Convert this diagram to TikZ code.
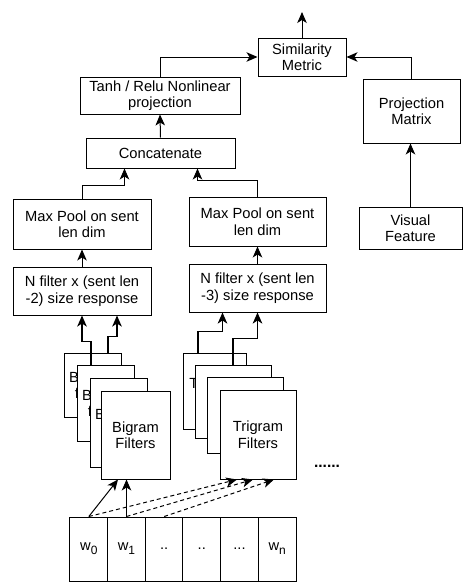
\documentclass[tikz,border=0pt]{standalone}
\usepackage{fontspec}
\setmainfont{Liberation Sans}
\usetikzlibrary{arrows.meta}
\newcommand{\wsub}[1]{\raisebox{-4pt}{\fontsize{12}{12}\selectfont #1}}
\begin{document}
\begin{tikzpicture}[x=1pt, y=-1pt,
      box/.style={draw, fill=white, line width=1pt, align=center, inner sep=0pt,
        font=\fontsize{14.7}{16.5}\selectfont},
      cell/.style={box, minimum width=37.67, minimum height=64},
      arr/.style={line width=1pt, -{Stealth[length=11pt, width=9.5pt, inset=3pt]}},
      sarr/.style={arr, line width=1.7pt},
      darr/.style={arr, dash pattern=on 4pt off 3pt}]
      \useasboundingbox (0,0) rectangle (467,587);
      \node[box, minimum width=88, minimum height=38] (sim) at (302,57) {Similarity\\Metric};
      \node[box, minimum width=160, minimum height=37] (tanh) at (160,95.5) {Tanh / Relu Nonlinear\\projection};
      \node[box, minimum width=97, minimum height=64] (proj) at (411.5,111) {Projection\\Matrix};
      \node[box, minimum width=149, minimum height=30] (concat) at (160.5,153) {Concatenate};
      \node[box, minimum width=138, minimum height=50] (mpl) at (82,224) {Max Pool on sent\\len dim};
      \node[box, minimum width=137, minimum height=49] (mpr) at (257.5,221.5) {Max Pool on sent\\len dim};
      \node[box, minimum width=103, minimum height=42] (vis) at (410.5,228) {Visual\\Feature};
      \node[box, minimum width=138, minimum height=48] (nfl) at (82,291) {N filter x (sent len\\-2) size response};
      \node[box, minimum width=137, minimum height=48] (nfr) at (257.5,288) {N filter x (sent len\\-3) size response};
      \coordinate (out) at (302,12);
      \draw[arr] (sim.north) -- (out);
      \draw[arr] (tanh.north) |- (sim.west);
      \draw[arr] (proj.north) |- (sim.east);
      \draw[arr] (concat.north) -- (tanh.south);
      \draw[arr] (vis.north) -- (vis.north |- proj.south);
      \draw[arr] (mpl.north) -- ++(0,-13) -| ([xshift=-36pt]concat.south);
      \draw[arr] (mpr.north) -- ++(0,-16) -| ([xshift=37pt]concat.south);
      \draw[arr] (nfl.north) -- (mpl.south);
      \draw[arr] (nfr.north) -- (mpr.south);
      \node[box, minimum width=57, minimum height=64] (bg1) at (92.5,385) {Bigram\\filters};
      \node[box, minimum width=57, minimum height=76] (bg2) at (105.5,403) {Bigram\\filters};
      \node[box, minimum width=57, minimum height=89] (bg3) at (118.5,422.5) {Bigram\\filters};
      \node[box, minimum width=69, minimum height=88] (bgf) at (135.5,435) {Bigram\\Filters};
      \node[box, minimum width=63, minimum height=76] (tg1) at (214.5,391) {Trigram\\filters};
      \node[box, minimum width=76, minimum height=73] (tg2) at (233,401.5) {Trigram\\filters};
      \node[box, minimum width=76, minimum height=76] (tg3) at (245,415) {Trigram\\filters};
      \node[box, minimum width=76, minimum height=89] (tgf) at (258,434.5) {Trigram\\Filters};
      \draw[sarr] ([xshift=-14.5pt]bg2.north) -- ++(0,-23) -| (nfl.south);
      \draw[sarr] ([xshift=15.5pt]bg1.north) -- ++(0,-16) -| ([xshift=35pt]nfl.south);
      \draw[sarr] ([xshift=-16.5pt]tg1.north) -- ++(0,-21) -| ([xshift=-35pt]nfr.south);
      \draw[sarr] (tg2.north) -- ++(0,-26) -| (nfr.south);
      \node[font=\fontsize{15.5}{16.5}\selectfont\bfseries] (more) at (327,466) {......};
      \node[cell] (c0) at (88.83,549) {w\wsub{0}};
      \node[cell] (c1) at (126.5,549) {w\wsub{1}};
      \node[cell] (c2) at (164.17,549) {..};
      \node[cell] (c3) at (201.83,549) {..};
      \node[cell] (c4) at (239.5,549) {...};
      \node[cell] (c5) at (277.17,549) {w\wsub{n}};
      \draw[arr] (c0.north) -- ([xshift=-17.5pt]bgf.south);
      \draw[arr] (c1.north) -- (c1.north |- bgf.south);
      \draw[darr] (c0.north) -- ([xshift=-21pt]tgf.south);
      \draw[darr] (c1.north) -- ([xshift=-5pt]tgf.south);
      \draw[darr] (c2.north) -- ([xshift=16pt]tgf.south);
\end{tikzpicture}
\end{document}
